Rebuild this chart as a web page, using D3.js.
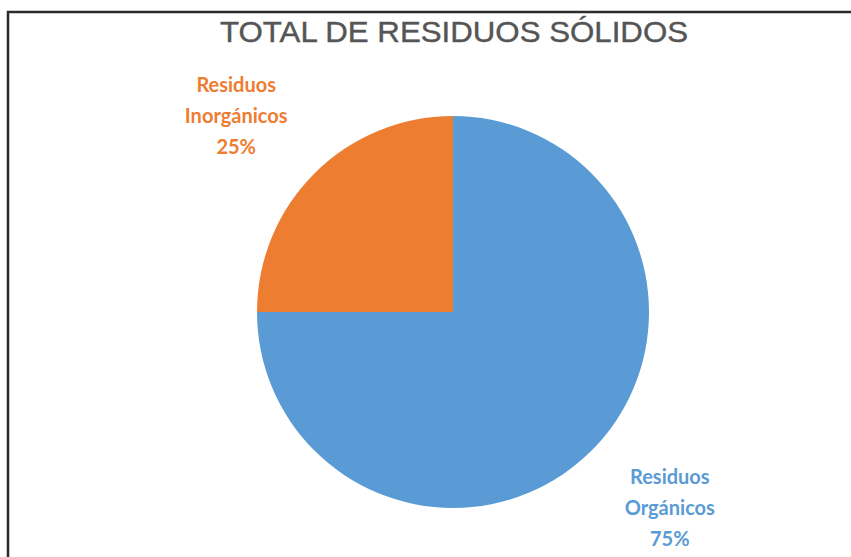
<!DOCTYPE html>
<html>
<head>
<meta charset="utf-8">
<script src="https://cdn.jsdelivr.net/npm/d3@7"></script>
<style>
  html, body { margin: 0; padding: 0; background: #fff; }
  svg { display: block; }
</style>
</head>
<body>
<svg id="chart" width="851" height="557"></svg>
<script>
const title = "TOTAL DE RESIDUOS SÓLIDOS";
const categories = ["Residuos Orgánicos", "Residuos Inorgánicos"];
const labelLines = [["Residuos", "Orgánicos"], ["Residuos", "Inorgánicos"]];
const values = [75, 25];
const colors = ["#5B9BD5", "#ED7D31"];
const labelColors = ["#5B9BD5", "#ED7D31"];

const svg = d3.select("#chart");
const W = 851, H = 557;

// border frame
svg.append("rect")
  .attr("x", 8).attr("y", 12)
  .attr("width", W + 20).attr("height", H + 20)
  .attr("fill", "none")
  .attr("stroke", "#2b2b2b")
  .attr("stroke-width", 2.5);

// title
svg.append("text")
  .attr("x", 454).attr("y", 42)
  .attr("text-anchor", "middle")
  .attr("font-family", "'Liberation Sans Narrow', 'Liberation Sans', Arial, sans-serif")
  .attr("font-size", 30)
  .attr("fill", "#555555")
  .attr("stroke", "#555555")
  .attr("stroke-width", 0.4)
  .attr("textLength", 468)
  .attr("lengthAdjust", "spacingAndGlyphs")
  .text(title);

const cx = 453, cy = 312, R = 196;
const g = svg.append("g").attr("transform", `translate(${cx},${cy})`);

const data = categories.map((c, i) => ({ name: c, value: values[i], i }));
const pie = d3.pie().sort(null).value(d => d.value);
const arcs = pie(data);
const arc = d3.arc().innerRadius(0).outerRadius(R);
const labelArc = d3.arc().innerRadius(292).outerRadius(292);

g.selectAll("path.slice")
  .data(arcs)
  .enter().append("path")
  .attr("class", "slice")
  .attr("d", arc)
  .attr("fill", d => colors[d.data.i])
  .attr("stroke", "none");

const pctFmt = d3.format(".0%");
const total = d3.sum(values);

arcs.forEach(d => {
  const [lx, ly] = labelArc.centroid(d);
  const x = lx * 1.05, y = ly * 0.95;
  const lines = labelLines[d.data.i].concat([pctFmt(d.data.value / total)]);
  const txt = g.append("text")
    .attr("text-anchor", "middle")
    .attr("font-family", "Lato, 'Open Sans', sans-serif")
    .attr("font-weight", "bold")
    .attr("font-size", 20)
    .attr("fill", labelColors[d.data.i]);
  lines.forEach((ln, k) => {
    txt.append("tspan")
      .attr("x", x)
      .attr("y", y + (k - 1) * 31 + 7)
      .text(ln);
  });
});
</script>
</body>
</html>
